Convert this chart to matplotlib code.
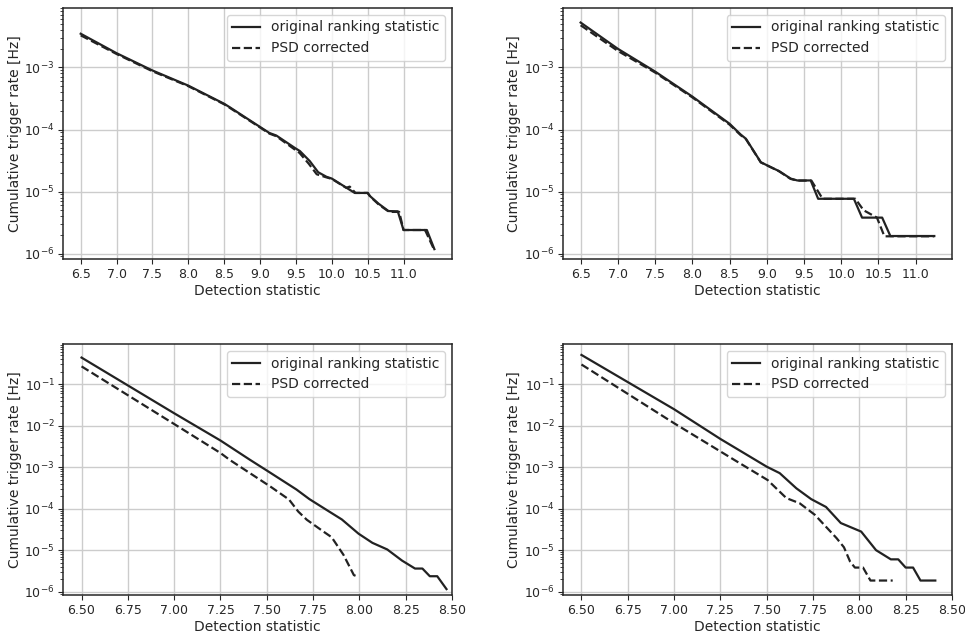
import matplotlib
matplotlib.use("Agg")
import matplotlib.pyplot as plt
import numpy as np

# top left panel
tl_x_orig = [6.5, 7.0, 7.5, 8.0, 8.5, 8.574, 9.0, 9.13, 9.227, 9.485, 9.555, 9.693, 9.81, 9.926, 10.0,
             10.32, 10.5, 10.53, 10.65, 10.79, 10.92, 11.0, 11.325, 11.43]
tl_y_orig = [3.5e-3, 1.7e-3, 8.95e-4, 5.1e-4, 2.6e-4, 2.3e-4, 1.1e-4, 8.8e-5, 8.0e-5, 5.05e-5, 4.5e-5, 3.1e-5,
             2.05e-5, 1.73e-5, 1.62e-5, 9.5e-6, 9.5e-6, 8.5e-6, 6.4e-6, 4.85e-6, 4.8e-6, 2.4e-6, 2.4e-6, 1.18e-6]
tl_x_psd = [6.5, 7.0, 7.5, 8.0, 8.5, 8.574, 9.0, 9.13, 9.227, 9.48, 9.55, 9.68, 9.79, 9.92, 10.0,
            10.2, 10.25, 10.33, 10.5, 10.54, 10.66, 10.8, 10.94, 11.0, 11.3, 11.42]
tl_y_psd = [3.3e-3, 1.65e-3, 8.7e-4, 5.0e-4, 2.55e-4, 2.25e-4, 1.08e-4, 8.6e-5, 7.8e-5, 4.8e-5, 4.2e-5, 2.8e-5,
            1.9e-5, 1.7e-5, 1.6e-5, 1.15e-5, 1.2e-5, 9.5e-6, 9.5e-6, 8.2e-6, 6.1e-6, 4.7e-6, 4.7e-6, 2.4e-6, 2.4e-6, 1.2e-6]

# top right panel
tr_x_orig = [6.5, 7.0, 7.5, 8.0, 8.5, 8.65, 8.72, 8.92, 9.076, 9.165, 9.32, 9.41, 9.59, 9.69, 10.17,
             10.28, 10.55, 10.66, 11.25]
tr_y_orig = [5.3e-3, 2.0e-3, 8.6e-4, 3.4e-4, 1.24e-4, 8.3e-5, 7.1e-5, 2.97e-5, 2.4e-5, 2.14e-5, 1.62e-5,
             1.51e-5, 1.51e-5, 7.65e-6, 7.65e-6, 3.8e-6, 3.8e-6, 1.92e-6, 1.92e-6]
tr_x_psd = [6.5, 7.0, 7.5, 8.0, 8.5, 8.65, 8.72, 8.92, 9.076, 9.165, 9.32, 9.41, 9.6, 9.75, 10.19,
            10.3, 10.48, 10.58, 11.25]
tr_y_psd = [4.8e-3, 1.85e-3, 8.3e-4, 3.3e-4, 1.2e-4, 8.1e-5, 7.0e-5, 2.95e-5, 2.4e-5, 2.12e-5, 1.6e-5,
            1.5e-5, 1.5e-5, 7.65e-6, 7.65e-6, 5.0e-6, 3.8e-6, 1.9e-6, 1.9e-6]

# bottom left panel
bl_x_orig = [6.5, 7.0, 7.25, 7.41, 7.51, 7.66, 7.73, 7.83, 7.905, 7.995, 8.07, 8.15, 8.23, 8.30, 8.34,
             8.38, 8.42, 8.47]
bl_y_orig = [0.44, 2.0e-2, 4.4e-3, 1.5e-3, 7.8e-4, 2.9e-4, 1.7e-4, 8.9e-5, 5.5e-5, 2.5e-5, 1.5e-5,
             1.04e-5, 5.6e-6, 3.6e-6, 3.6e-6, 2.35e-6, 2.35e-6, 1.15e-6]
bl_x_psd = [6.5, 7.0, 7.25, 7.30, 7.52, 7.62, 7.67, 7.716, 7.806, 7.85, 7.914, 7.97, 7.99]
bl_y_psd = [0.27, 1.1e-2, 2.2e-3, 1.5e-3, 3.4e-4, 1.66e-4, 8.5e-5, 5.4e-5, 2.8e-5, 2.05e-5, 7.7e-6,
            2.5e-6, 2.3e-6]

# bottom right panel
br_x_orig = [6.5, 7.0, 7.25, 7.5, 7.57, 7.66, 7.74, 7.82, 7.90, 8.01, 8.09, 8.17, 8.21, 8.25, 8.29,
             8.33, 8.41]
br_y_orig = [0.51, 2.5e-2, 4.8e-3, 1.03e-3, 7.2e-4, 3.1e-4, 1.7e-4, 1.1e-4, 4.5e-5, 2.8e-5, 1.0e-5,
             6.0e-6, 6.0e-6, 3.8e-6, 3.8e-6, 1.85e-6, 1.85e-6]
br_x_psd = [6.5, 7.0, 7.25, 7.325, 7.505, 7.606, 7.678, 7.76, 7.877, 7.917, 7.95, 7.976, 8.02, 8.06, 8.18]
br_y_psd = [0.30, 1.15e-2, 2.4e-3, 1.5e-3, 4.9e-4, 1.8e-4, 1.35e-4, 7.1e-5, 1.95e-5, 1.17e-5, 5.3e-6,
            3.8e-6, 3.8e-6, 1.85e-6, 1.85e-6]

txt = "#262626"
plt.rcParams.update({
    "font.family": "DejaVu Sans",
    "text.color": txt,
    "axes.labelcolor": txt,
    "xtick.color": txt,
    "ytick.color": txt,
    "axes.edgecolor": txt,
    "axes.linewidth": 1.1,
    "xtick.labelsize": 9,
    "ytick.labelsize": 9,
    "axes.labelsize": 10,
    "legend.fontsize": 10,
    "xtick.major.size": 3.5,
    "ytick.major.size": 3.5,
    "ytick.minor.size": 2,
    "xtick.major.pad": 3,
    "ytick.major.pad": 2.5,
    "grid.color": "#cccccc",
    "grid.linewidth": 1.0,
})

fig, axs = plt.subplots(2, 2, figsize=(9.65, 6.39), dpi=100)
fig.subplots_adjust(left=0.0653, right=0.9865, top=0.9875, bottom=0.0689, wspace=0.285, hspace=0.339)

panels = [
    (axs[0, 0], tl_x_orig, tl_y_orig, tl_x_psd, tl_y_psd),
    (axs[0, 1], tr_x_orig, tr_y_orig, tr_x_psd, tr_y_psd),
    (axs[1, 0], bl_x_orig, bl_y_orig, bl_x_psd, bl_y_psd),
    (axs[1, 1], br_x_orig, br_y_orig, br_x_psd, br_y_psd),
]

for i, (ax, xo, yo, xp, yp) in enumerate(panels):
    ax.plot(xo, yo, color="#222222", lw=1.6, label="original ranking statistic")
    ax.plot(xp, yp, color="#222222", lw=1.6, ls="--", label="PSD corrected")
    ax.set_yscale("log")
    ax.grid(True, which="major")
    ax.set_axisbelow(True)
    ax.set_xlabel("Detection statistic", labelpad=2)
    ax.set_ylabel("Cumulative trigger rate [Hz]", labelpad=2)
    ax.legend(loc="upper right", edgecolor="#cccccc")
    if i < 2:
        ax.set_yticks([1e-6, 1e-5, 1e-4, 1e-3])
        ax.set_ylim(8.2e-7, 9.1e-3)
        ax.set_xticks(np.arange(6.5, 11.01, 0.5))
    else:
        ax.set_yticks([1e-6, 1e-5, 1e-4, 1e-3, 1e-2, 1e-1])
        ax.set_ylim(8.3e-7, 0.935)
        ax.set_xlim(6.4, 8.5)
        ax.set_xticks(np.arange(6.5, 8.51, 0.25))
        ax.xaxis.set_major_formatter(matplotlib.ticker.FormatStrFormatter("%.2f"))

fig.savefig("out.png", dpi=100)
